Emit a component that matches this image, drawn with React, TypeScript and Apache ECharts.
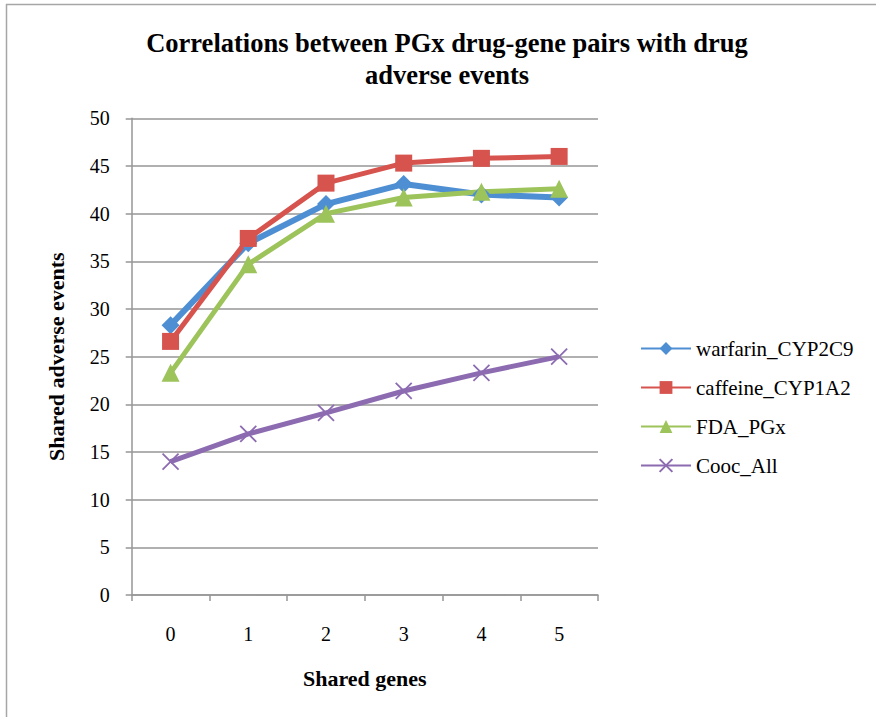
import React, { useEffect, useRef } from "react";
import * as echarts from "echarts";

const categories = ["0", "1", "2", "3", "4", "5"];
const warfarin = [28.3, 36.9, 41.0, 43.1, 42.0, 41.7];
const caffeine = [26.6, 37.4, 43.2, 45.3, 45.8, 46.0];
const fdaPgx = [23.3, 34.7, 40.0, 41.7, 42.3, 42.6];
const coocAll = [14.0, 16.9, 19.1, 21.4, 23.3, 25.0];
const seriesNames = ["warfarin_CYP2C9", "caffeine_CYP1A2", "FDA_PGx", "Cooc_All"];

const FONT = '"Liberation Serif", "Times New Roman", serif';
const GRID = "#969696";

export default function App() {
  const ref = useRef<HTMLDivElement>(null);
  useEffect(() => {
    if (!ref.current) return;
    const chart = echarts.init(ref.current, null, { renderer: "svg" });
    const mk = (name: string, data: number[], color: string, symbol: string, size: number, width: number, extra: any = {}) => ({
      name,
      type: "line",
      data,
      symbol,
      symbolSize: size,
      lineStyle: { width, color },
      itemStyle: { color, ...extra },
      emphasis: { disabled: true },
    });
    chart.setOption({
      animation: false,
      backgroundColor: "#ffffff",
      title: {
        text: "Correlations between PGx drug-gene pairs with drug\nadverse events",
        left: 447,
        top: 27,
        padding: 0,
        textAlign: "center",
        textStyle: { fontFamily: FONT, fontWeight: "bold", fontSize: 26.5, lineHeight: 32, color: "#000" },
      },
      legend: {
        orient: "vertical",
        left: 635,
        top: 333,
        itemWidth: 50,
        itemHeight: 16,
        itemGap: 18,
        textStyle: { fontFamily: FONT, fontSize: 21, color: "#000" },
        data: seriesNames,
      },
      grid: { left: 131.7, right: 278, top: 118.3, bottom: 122, containLabel: false },
      xAxis: {
        type: "category",
        data: categories,
        boundaryGap: true,
        name: "Shared genes",
        nameLocation: "middle",
        nameGap: 72,
        nameTextStyle: { fontFamily: FONT, fontWeight: "bold", fontSize: 22, color: "#000" },
        axisLine: { show: true, lineStyle: { color: GRID, width: 1.5 } },
        axisTick: { show: true, length: 6, alignWithLabel: false, lineStyle: { color: GRID, width: 1.5 } },
        axisLabel: { margin: 29, fontFamily: FONT, fontSize: 20, color: "#000" },
        splitLine: { show: false },
      },
      yAxis: {
        type: "value",
        min: 0,
        max: 50,
        interval: 5,
        name: "Shared adverse events",
        nameLocation: "middle",
        nameGap: 64,
        nameTextStyle: { fontFamily: FONT, fontWeight: "bold", fontSize: 22, color: "#000" },
        axisLine: { show: true, lineStyle: { color: GRID, width: 1.5 } },
        axisTick: { show: true, length: 6, lineStyle: { color: GRID, width: 1.5 } },
        axisLabel: { margin: 22, fontFamily: FONT, fontSize: 20, color: "#000" },
        splitLine: { show: true, lineStyle: { color: GRID, width: 1.5 } },
      },
      graphic: [
        { type: "line", shape: { x1: 6, y1: 4.5, x2: 876, y2: 4.5 }, style: { stroke: "#a6a6a6", lineWidth: 1.5 } },
        { type: "line", shape: { x1: 6.5, y1: 4, x2: 6.5, y2: 717 }, style: { stroke: "#a6a6a6", lineWidth: 1.5 } },
      ],
      series: [
        mk(seriesNames[0], warfarin, "#4E8FD3", "diamond", 18, 6),
        mk(seriesNames[1], caffeine, "#D6534E", "rect", 17, 5),
        mk(seriesNames[2], fdaPgx, "#9DC35B", "triangle", 18, 5),
        mk(seriesNames[3], coocAll, "#8C6BB1", "path://M0,0L10,10M10,0L0,10", 16, 5, {
          borderColor: "#8C6BB1",
          borderWidth: 1.8,
        }),
      ],
    });
    return () => chart.dispose();
  }, []);
  return (
    <div
      ref={ref}
      style={{ position: "fixed", left: 0, top: 0, width: 876, height: 717, background: "#fff" }}
    />
  );
}
